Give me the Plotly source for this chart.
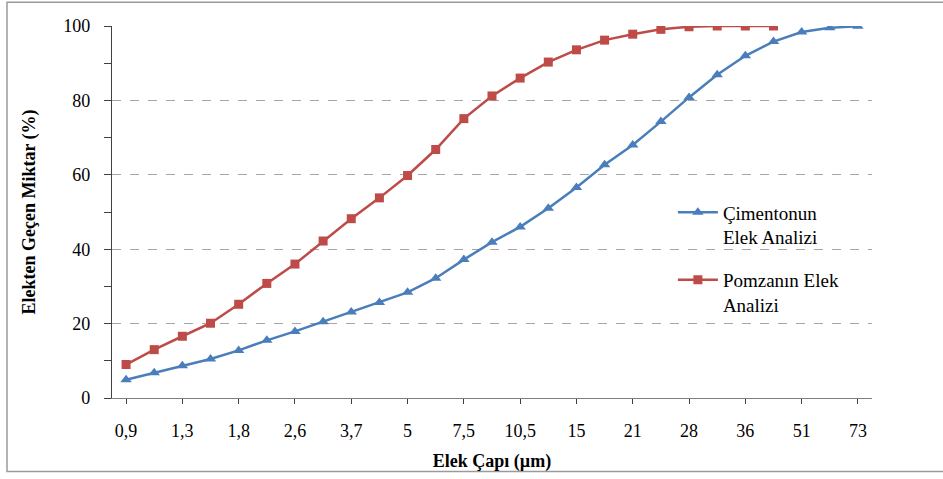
import plotly.graph_objects as go

categories = ["0,9", "1,1", "1,3", "1,5", "1,8", "2,2", "2,6", "3,1", "3,7", "4,3",
              "5", "6", "7,5", "9", "10,5", "12,5", "15", "18", "21", "24",
              "28", "32", "36", "43", "51", "61", "73"]
tick_labels = categories[::2]

cimento = [4.9, 6.8, 8.7, 10.5, 12.8, 15.5, 17.9, 20.5, 23.1, 25.7,
           28.4, 32.2, 37.2, 41.9, 46.0, 51.0, 56.6, 62.7, 68.0, 74.3,
           80.8, 86.9, 92.0, 95.8, 98.4, 99.5, 99.9]
pomza = [9.0, 13.0, 16.6, 20.1, 25.2, 30.8, 36.0, 42.2, 48.2, 53.8,
         59.8, 66.8, 75.1, 81.2, 86.0, 90.3, 93.6, 96.2, 97.8, 99.1,
         99.8, 100.0, 100.0, 100.0]

names = ["Çimentonun<br>Elek Analizi", "Pomzanın Elek<br>Analizi"]
colors = ["#4A7EBB", "#BE4B48"]

fig = go.Figure()
fig.add_trace(go.Scatter(
    x=categories, y=cimento, name=names[0], mode="lines+markers", legendgroup="a",
    line=dict(color=colors[0], width=2.5),
    marker=dict(symbol="triangle-up", size=10, color=colors[0])))
fig.add_trace(go.Scatter(
    x=categories[:len(pomza)], y=pomza, name=names[1], mode="lines+markers", legendgroup="b",
    line=dict(color=colors[1], width=2.5),
    marker=dict(symbol="square", size=9, color=colors[1])))

font_family = "Liberation Serif"

fig.update_layout(
    width=943, height=479,
    margin=dict(l=112, r=71, t=26, b=79),
    paper_bgcolor="white", plot_bgcolor="white",
    font=dict(family=font_family, size=18, color="#000000"),
    showlegend=True,
    legend=dict(x=0.738, y=0.55, xanchor="left", yanchor="top", valign="top",
                font=dict(family=font_family, size=19, color="#000000"),
                bgcolor="rgba(0,0,0,0)", tracegroupgap=15,
                itemwidth=40),
    xaxis=dict(
        type="category", categoryorder="array", categoryarray=categories,
        range=[-0.5, len(categories) - 0.5],
        tickmode="array", tickvals=tick_labels, ticktext=tick_labels,
        showline=True, linecolor="#7f7f7f", linewidth=1.3,
        ticks="outside", ticklen=5, tickcolor="#404040",
        showgrid=False, zeroline=False,
        tickfont=dict(family=font_family, size=18),
        ticklabelstandoff=11,
        minor=dict(ticks="outside", ticklen=5, tickcolor="#404040", showgrid=False),
        title=dict(text="<b>Elek Çapı (µm)</b>", font=dict(family=font_family, size=18), standoff=14),
    ),
    yaxis=dict(
        range=[0, 100], tickvals=[0, 20, 40, 60, 80, 100],
        showline=True, linecolor="#404040", linewidth=1.3,
        ticks="outside", ticklen=7, tickcolor="#404040",
        showgrid=True, gridcolor="#a6a6a6", griddash="dash", gridwidth=1,
        zeroline=False,
        tickfont=dict(family=font_family, size=18),
        ticklabelstandoff=10,
        minor=dict(tickvals=[10, 30, 50, 70, 90], ticks="outside", ticklen=7,
                   tickcolor="#404040", showgrid=False),
        title=dict(text="<b>Elekten Geçen Miktar (%)</b>", font=dict(family=font_family, size=18), standoff=22),
    ),
)

# outer chart border
fig.add_shape(type="rect", xref="paper", yref="paper",
              x0=(7 - 112) / 760, x1=(950 - 112) / 760,
              y0=(400 - 474) / 374, y1=(400 - 2) / 374,
              line=dict(color="#9a9a9a", width=1.5), fillcolor="rgba(0,0,0,0)",
              layer="below")

fig.write_html(
    "out.html",
    config={"displayModeBar": False},
    post_script="document.documentElement.style.margin='0';document.body.style.margin='0';"
                "document.body.style.overflow='hidden';document.documentElement.style.overflow='hidden';",
)
